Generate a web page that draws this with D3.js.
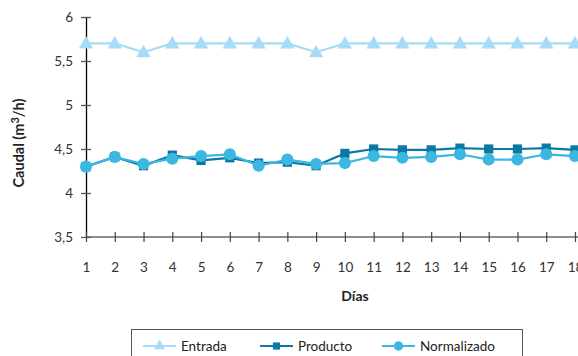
<!DOCTYPE html>
<html>
<head>
<meta charset="utf-8">
<script src="https://cdn.jsdelivr.net/npm/d3@7"></script>
<style>
  html, body { margin: 0; padding: 0; background: #fff; }
  svg { display: block; font-family: Lato, "Open Sans", sans-serif; }
</style>
</head>
<body>
<svg id="chart" width="578" height="356"></svg>
<script>
// Daily flow rates (m3/h)
const days = [1, 2, 3, 4, 5, 6, 7, 8, 9, 10, 11, 12, 13, 14, 15, 16, 17, 18];
const entrada = [5.7, 5.7, 5.6, 5.7, 5.7, 5.7, 5.7, 5.7, 5.6, 5.7, 5.7, 5.7, 5.7, 5.7, 5.7, 5.7, 5.7, 5.7];
const producto = [4.30, 4.41, 4.31, 4.43, 4.37, 4.40, 4.34, 4.35, 4.31, 4.45, 4.50, 4.49, 4.49, 4.51, 4.50, 4.50, 4.51, 4.49];
const normalizado = [4.30, 4.41, 4.33, 4.39, 4.42, 4.44, 4.31, 4.38, 4.33, 4.34, 4.42, 4.40, 4.41, 4.44, 4.38, 4.38, 4.44, 4.42];
const yTicks = [3.5, 4, 4.5, 5, 5.5, 6];

const seriesNames = ["Entrada", "Producto", "Normalizado"];
const seriesColors = ["#a6dcf6", "#0b78a6", "#3cb7e0"];
const seriesShapes = [d3.symbolTriangle, d3.symbolSquare, d3.symbolCircle];
const seriesSizes = [90, 85, 115];
const seriesValues = [entrada, producto, normalizado];

const svg = d3.select("#chart");
const x = d3.scaleLinear().domain([1, 18]).range([86, 575]);
const y = d3.scaleLinear().domain([3.5, 6]).range([237, 17]);

const fmt = d => d3.format(".1~f")(d).replace(".", ",");

// Y axis
const yAxis = svg.append("g").attr("transform", "translate(86,0)")
  .call(d3.axisLeft(y).tickValues(yTicks).tickFormat(fmt).tickSizeInner(5).tickSizeOuter(0).tickPadding(8));
yAxis.select(".domain").attr("stroke", "#000").attr("stroke-width", 1.3);
yAxis.selectAll(".tick line").attr("x2", 5).attr("x1", -5).attr("stroke", "#555").attr("stroke-width", 1.3);
yAxis.selectAll(".tick text").attr("font-size", 13.5).attr("fill", "#333").attr("font-family", "Lato, sans-serif");

// X axis
const xAxis = svg.append("g").attr("transform", "translate(0,237)")
  .call(d3.axisBottom(x).tickValues(days).tickFormat(d3.format("d")).tickSizeInner(5).tickSizeOuter(0).tickPadding(20));
xAxis.select(".domain").attr("stroke", "#666").attr("stroke-width", 1.3).attr("d", "M86,0H600");
xAxis.selectAll(".tick line").attr("y1", -5).attr("y2", 5).attr("stroke", "#444").attr("stroke-width", 1.2);
xAxis.selectAll(".tick text").attr("font-size", 13.5).attr("fill", "#333").attr("font-family", "Lato, sans-serif");

// Axis titles
svg.append("text")
  .attr("transform", "translate(24,143) rotate(-90)")
  .attr("text-anchor", "middle")
  .attr("font-size", 14.5).attr("font-weight", "bold").attr("fill", "#222")
  .html('Caudal (m<tspan dy="-5" font-size="11">3</tspan><tspan dy="5">/h)</tspan>');
svg.append("text")
  .attr("x", 355).attr("y", 301)
  .attr("text-anchor", "middle")
  .attr("font-size", 14).attr("font-weight", "bold").attr("fill", "#222")
  .text("Días");

// Series lines and markers
const line = d3.line().x((d, i) => x(days[i])).y(d => y(d));
seriesValues.forEach((vals, s) => {
  const g = svg.append("g");
  g.append("path").datum(vals).attr("d", line)
    .attr("fill", "none").attr("stroke", seriesColors[s]).attr("stroke-width", 2.2);
  g.selectAll("path.m").data(vals).join("path").attr("class", "m")
    .attr("transform", (d, i) => `translate(${x(days[i])},${y(d) + (s === 0 ? 1 : 0)})`)
    .attr("d", d3.symbol().type(seriesShapes[s]).size(seriesSizes[s]))
    .attr("fill", seriesColors[s]);
});

// Legend
const lg = svg.append("g");
lg.append("rect").attr("x", 131.5).attr("y", 329.5).attr("width", 391).attr("height", 40)
  .attr("fill", "#fff").attr("stroke", "#555").attr("stroke-width", 1);
const legendX = [143, 260, 382];
seriesNames.forEach((name, s) => {
  const lx = legendX[s], ly = 346;
  lg.append("line").attr("x1", lx).attr("x2", lx + 33).attr("y1", ly).attr("y2", ly)
    .attr("stroke", seriesColors[s]).attr("stroke-width", 2.2);
  lg.append("path").attr("transform", `translate(${lx + 16.5},${ly})`)
    .attr("d", d3.symbol().type(seriesShapes[s]).size(seriesSizes[s] * 0.6))
    .attr("fill", seriesColors[s]);
  lg.append("text").attr("x", lx + 38).attr("y", ly + 5)
    .attr("font-size", 13.5).attr("fill", "#222").text(name);
});
</script>
</body>
</html>
